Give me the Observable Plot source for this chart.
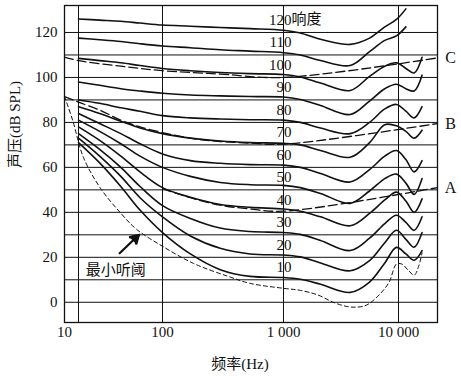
<!DOCTYPE html>
<html><head><meta charset="utf-8">
<script src="https://cdn.jsdelivr.net/npm/d3@7"></script>
<script src="https://cdn.jsdelivr.net/npm/@observablehq/plot@0.6"></script>
<style>body{margin:0;background:#fff} svg{display:block}</style>
</head><body><div id="chart"></div>
<script>
// ---- data ----
const freqs = [20, 30, 45, 65, 100, 170, 300, 530, 1000, 1400, 2100, 3800, 5600, 7600, 9600, 11400, 13200, 15200];
const phon120 = [126, 125.5, 125, 124.2, 123.3, 122.8, 122.2, 121.7, 121, 119.8, 117, 114.7, 117.5, 122.5, 125.8, 130.5, null, null];
const phon110 = [117.5, 116.8, 116, 115, 114, 113.2, 112.3, 111.7, 111, 110, 107.5, 105.3, 111.5, 116.5, 118.5, 122.5, null, null];
const phon100 = [108.5, 107.5, 106.5, 105.3, 104, 103, 102.2, 101.7, 101.3, 100.2, 97.5, 94.2, 100.5, 105, 106.5, 104, 102, 109];
const phon90 = [98, 96.5, 95, 94, 93, 92.2, 91.8, 91.5, 91.3, 90.2, 87.5, 83.5, 89.5, 95, 97, 95, 94, 101];
const phon80 = [90, 88.5, 86.5, 85, 83, 82, 81.5, 81.2, 81, 80, 77.5, 75, 80, 86, 88, 85, 82, 87];
const phon70 = [87, 84, 80.5, 77.5, 75, 73, 71.7, 71, 70.7, 70, 67.5, 64.5, 71, 79, 78.5, 76, 73, 76.5];
const phon60 = [84, 79.5, 75, 70.5, 66, 63, 61.8, 61.2, 61, 60, 57.3, 53.5, 59, 65, 67.5, 63.5, 58, 63];
const phon50 = [81, 76, 70.5, 65, 60, 56, 53.3, 52.3, 52, 51, 48.4, 44, 49.5, 55, 57, 53, 48, 55];
const phon40 = [78, 72, 65, 58, 51, 46.7, 43.5, 42.2, 41.5, 40.5, 38, 34, 39.5, 45.5, 49, 45, 40, 46];
const phon30 = [75, 68, 60, 51.5, 43, 37.3, 33, 31.5, 31, 30.2, 27.5, 23, 28.5, 35, 38.7, 35.5, 32, 38];
const phon20 = [73, 65, 56, 46.5, 38, 29.5, 24, 21.5, 21, 20.2, 17.5, 14, 18.5, 26.5, 32, 28, 24.5, 31];
const phon10 = [71, 62, 51.5, 41, 31, 21.5, 14.5, 11.5, 11, 10.2, 8, 4.4, 9, 17.5, 24.4, 21.5, 18.7, 23];
const phonLevels = [120, 110, 100, 90, 80, 70, 60, 50, 40, 30, 20, 10];
const phonSeries = [phon120, phon110, phon100, phon90, phon80, phon70, phon60, phon50, phon40, phon30, phon20, phon10];

const thrFreqs = [10, 15, 22, 30.5, 45, 61, 100, 180, 345, 530, 1000, 1400, 2000, 2700, 3500, 4200, 5000, 5600, 7000, 8300, 9600, 10600, 12000, 13200, 14300, 15200];
const thrValues = [91.6, 80.9, 64.4, 50.7, 39.6, 32.4, 24.9, 17.3, 11.6, 8.4, 6.2, 5.3, 3.2, 0, -1.8, -2.2, -1.7, -0.5, 4, 9, 17, 17, 14, 12, 16, 22];

const cFreqs = [10, 20, 45, 100, 300, 1000, 20000];
const cValues = [109, 107.5, 105, 103, 101.5, 100, 108.7];
const bFreqs = [10, 20, 30, 45, 65, 100, 170, 300, 530, 1000, 20000];
const bValues = [91.5, 89, 85.5, 81, 78, 75.5, 73, 71.5, 70.8, 70.3, 79.5];
const aFreqs = [100, 170, 300, 530, 1000, 20000];
const aValues = [50.5, 46.5, 43.2, 41.5, 40.5, 51];
const weightNames = ["C", "B", "A"];

const xTicks = [10, 100, 1000, 10000];
const yTicks = [0, 20, 40, 60, 80, 100, 120];
const yGrid = [0, 10, 20, 30, 40, 50, 60, 70, 80, 90, 100, 110, 120];
const xGrid = [20, 100, 1000, 10000];
const arrowFrom = [44, 21.8];
const arrowTo = [63, 29.8];
const thrLabel = "最小听阈";
const thrLabelPos = [23, 14.2];
const loudnessWord = "响度";

// ---- build ----
const rows = (fs, vs) => fs.map((f, i) => ({f, v: vs[i]})).filter(d => d.v != null);
const fmtX = d => d >= 1000 ? d3.format(",")(d).replace(/,/g, " ") : String(d);
const ink = "#111";
const serif = "'Liberation Serif', 'Noto Sans CJK SC', serif";

const marks = [];
marks.push(Plot.ruleY(yGrid, {stroke: ink, strokeWidth: 1}));
marks.push(Plot.ruleX(xGrid, {stroke: ink, strokeWidth: 1}));
phonSeries.forEach((vs) => {
  marks.push(Plot.line(rows(freqs, vs), {x: "f", y: "v", stroke: ink, strokeWidth: 1.6, curve: "catmull-rom"}));
});
const weights = [[cFreqs, cValues], [bFreqs, bValues], [aFreqs, aValues]];
weights.forEach(([fs, vs]) => {
  marks.push(Plot.line(rows(fs, vs), {x: "f", y: "v", stroke: ink, strokeWidth: 1.3, strokeDasharray: "9,4", curve: "catmull-rom"}));
});
marks.push(Plot.line(rows(thrFreqs, thrValues), {x: "f", y: "v", stroke: ink, strokeWidth: 1, strokeDasharray: "4,3", curve: "catmull-rom"}));
marks.push(Plot.frame({stroke: ink, strokeWidth: 1.3}));
// curve labels
marks.push(Plot.text(phonLevels, {x: () => 1000, y: d => d + 5.6, text: d => String(d), textAnchor: "end", dx: 8, fill: ink}));
marks.push(Plot.text([loudnessWord], {x: () => 1000, y: () => phonLevels[0] + 5.9, text: d => d, textAnchor: "start", dx: 8, fill: ink, fontFamily: "'Noto Sans CJK SC', sans-serif", fontSize: 15}));
// weighting letters
marks.push(Plot.text(weights.map(([fs, vs], i) => ({f: fs[fs.length - 1], v: vs[vs.length - 1], t: weightNames[i]})), {x: "f", y: "v", text: "t", dx: 13, fill: ink, fontSize: 16}));
// threshold annotation
marks.push(Plot.arrow([{x1: arrowFrom[0], y1: arrowFrom[1], x2: arrowTo[0], y2: arrowTo[1]}], {x1: "x1", y1: "y1", x2: "x2", y2: "y2", stroke: ink, strokeWidth: 2.2, headLength: 8}));
marks.push(Plot.dot([arrowTo], {x: d => d[0], y: d => d[1], symbol: "triangle", r: 4.5, fill: ink, stroke: null, rotate: 46, dx: -3, dy: 3}));
marks.push(Plot.text([thrLabel], {x: () => thrLabelPos[0], y: () => thrLabelPos[1], text: d => d, textAnchor: "start", fill: ink, fontFamily: "'Noto Sans CJK SC', sans-serif", fontSize: 15}));
// axes
marks.push(Plot.axisX({ticks: xTicks, tickFormat: fmtX, tickSize: 0, tickPadding: 4, label: null, fontSize: 15}));
marks.push(Plot.axisY({ticks: yTicks, tickSize: 0, tickPadding: 7, label: null, fontSize: 15}));
marks.push(Plot.text(["频率(Hz)"], {frameAnchor: "bottom", dy: 46, dx: -11, text: d => d, fill: ink, fontSize: 15}));
marks.push(Plot.text(["声压(dB SPL)"], {frameAnchor: "left", dx: -49, dy: 4, rotate: -90, text: d => d, fill: ink, fontSize: 15}));

const chart = Plot.plot({
  width: 461, height: 379,
  marginLeft: 64, marginRight: 24, marginTop: 5, marginBottom: 57,
  style: {fontFamily: serif, fontSize: "15px", color: ink, background: "#fff"},
  x: {type: "log", domain: [10, 20, 100, 1000, 10000, 20000], range: [64, 78, 162, 283, 398, 437]},
  y: {domain: [-9, 132]},
  marks
});
document.getElementById("chart").appendChild(chart);
</script>
</body></html>
